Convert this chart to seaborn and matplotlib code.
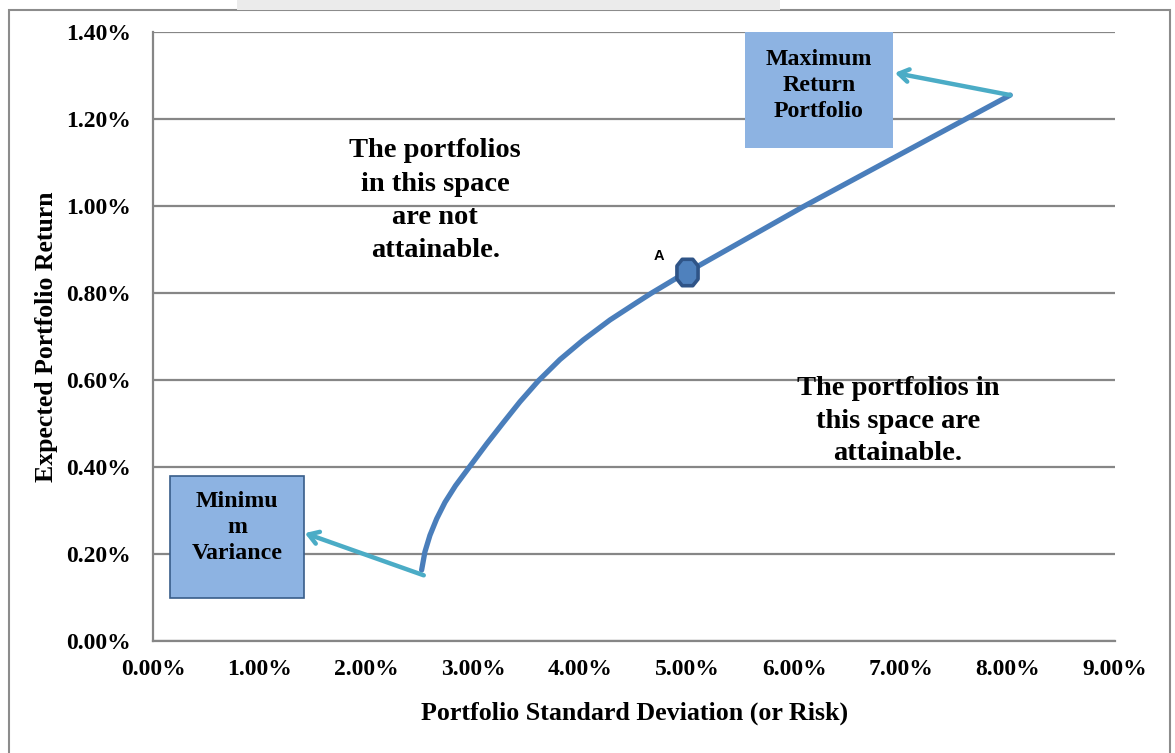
import matplotlib
matplotlib.use("Agg")
import matplotlib.pyplot as plt
from matplotlib.patches import Rectangle
from matplotlib.path import Path
from matplotlib.ticker import FuncFormatter
import seaborn as sns
import pandas as pd

# Efficient frontier: portfolio risk (%) vs expected return (%)
risk = [2.513, 2.544, 2.591, 2.654, 2.732, 2.830, 2.960, 3.121, 3.277, 3.433,
        3.605, 3.807, 4.025, 4.275, 4.525, 4.665, 4.930, 5.000, 6.080, 7.000, 8.020]
expected_return = [0.163, 0.205, 0.243, 0.281, 0.319, 0.357, 0.400, 0.453, 0.502,
                   0.550, 0.598, 0.647, 0.692, 0.738, 0.778, 0.800, 0.839, 0.848,
                   0.998, 1.120, 1.255]

point_a = {"risk": 5.00, "return": 0.848, "label": "A"}

x_ticks = [0, 1, 2, 3, 4, 5, 6, 7, 8, 9]
y_ticks = [0.0, 0.2, 0.4, 0.6, 0.8, 1.0, 1.2, 1.4]

frontier = pd.DataFrame({"risk": risk, "ret": expected_return})

sns.set_style("white")
plt.rcParams["font.family"] = ["Liberation Serif", "DejaVu Serif"]
plt.rcParams["font.weight"] = "bold"
plt.rcParams["text.color"] = "black"
plt.rcParams["axes.labelcolor"] = "black"
plt.rcParams["xtick.labelcolor"] = "black"
plt.rcParams["ytick.labelcolor"] = "black"

W, H = 1175, 753
fig = plt.figure(figsize=(W / 100, H / 100), dpi=100)
ax = fig.add_axes([153 / W, 1 - 641 / H, (1115 - 153) / W, (641 - 32) / H])

# frame around the whole chart
fig.patches.append(Rectangle((9 / W, -0.05), (1170 - 9) / W, 1.05 - 10 / H,
                             transform=fig.transFigure, fill=False,
                             edgecolor="#8c8c8c", linewidth=1.5))
fig.patches.append(Rectangle((237 / W, 1 - 10 / H), (780 - 237) / W, 10 / H,
                             transform=fig.transFigure, facecolor="#ebebeb",
                             edgecolor="none"))

line_color = "#4a7ebb"
sns.lineplot(data=frontier, x="risk", y="ret", sort=False, ax=ax,
             color=line_color, linewidth=3.8, solid_capstyle="round",
             solid_joinstyle="round", zorder=4)

# tall octagon marker for portfolio A
octagon = Path([(-0.2, -0.5), (0.2, -0.5), (0.4, -0.25), (0.4, 0.25),
                (0.2, 0.5), (-0.2, 0.5), (-0.4, 0.25), (-0.4, -0.25),
                (-0.2, -0.5)], closed=True)
ax.plot([point_a["risk"]], [point_a["return"]], marker=octagon, markersize=19,
        markerfacecolor="#4f81bd", markeredgecolor="#2f5487",
        markeredgewidth=2.6, zorder=6)
ax.text(point_a["risk"] - 0.27, point_a["return"] + 0.038, point_a["label"],
        fontsize=10.5, fontweight="bold", family=["Liberation Sans", "DejaVu Sans"],
        ha="center", va="center", zorder=6)

ax.set_xlim(0, 9)
ax.set_ylim(0, 1.4)
ax.set_xticks(x_ticks)
ax.set_yticks(y_ticks)
ax.xaxis.set_major_formatter(FuncFormatter(lambda v, p: f"{v:.2f}%"))
ax.yaxis.set_major_formatter(FuncFormatter(lambda v, p: f"{v:.2f}%"))

ax.yaxis.grid(True, color="#868686", linewidth=1.6)
ax.xaxis.grid(False)
ax.set_axisbelow(True)
for side in ("top", "right"):
    ax.spines[side].set_visible(False)
for side in ("left", "bottom"):
    ax.spines[side].set_color("#868686")
    ax.spines[side].set_linewidth(1.6)
ax.tick_params(axis="both", which="major", direction="out", length=5,
               width=1.4, color="#868686", labelcolor="black", labelsize=17)
ax.tick_params(axis="y", pad=11)
ax.tick_params(axis="x", pad=8)
for lbl in ax.get_xticklabels() + ax.get_yticklabels():
    lbl.set_fontweight("bold")

ax.set_xlabel("Portfolio Standard Deviation (or Risk)", fontsize=18.7, fontweight="bold")
ax.set_ylabel("Expected Portfolio Return", fontsize=18.5, fontweight="bold")
ax.xaxis.set_label_coords(0.501, -0.099)
ax.yaxis.set_label_coords(-0.099, 0.5)

# region annotations
ax.text(2.64, 1.012, "The portfolios\nin this space\nare not\nattainable.",
        fontsize=20.5, fontweight="bold", ha="center", va="center",
        linespacing=1.44, zorder=5)
ax.text(6.97, 0.505, "The portfolios in\nthis space are\nattainable.",
        fontsize=20.5, fontweight="bold", ha="center", va="center",
        linespacing=1.4, zorder=5)

box_color = "#8db3e2"
ax.add_patch(Rectangle((5.54, 1.133), 6.92 - 5.54, 1.40 - 1.133,
                       facecolor=box_color, edgecolor="none", zorder=3,
                       clip_on=False))
ax.text(6.23, 1.277, "Maximum\nReturn\nPortfolio", fontsize=17.2,
        fontweight="bold", ha="center", va="center", linespacing=1.33, zorder=5)

ax.add_patch(Rectangle((0.16, 0.099), 1.41 - 0.16, 0.379 - 0.099,
                       facecolor=box_color, edgecolor="#385d8a", linewidth=1.2,
                       zorder=3))
ax.text(0.786, 0.261, "Minimu\nm\nVariance", fontsize=17.2,
        fontweight="bold", ha="center", va="center", linespacing=1.33, zorder=5)

arrow_kw = dict(arrowstyle="->,head_length=0.7,head_width=0.45",
                color="#4bacc6", linewidth=3.2, shrinkA=0, shrinkB=0)
ax.annotate("", xy=(6.94, 1.306), xytext=(risk[-1], expected_return[-1]),
            arrowprops=arrow_kw, zorder=5)
ax.annotate("", xy=(1.42, 0.248), xytext=(risk[0] + 0.02, expected_return[0] - 0.012),
            arrowprops=arrow_kw, zorder=5)

fig.savefig("out.png", dpi=100)
